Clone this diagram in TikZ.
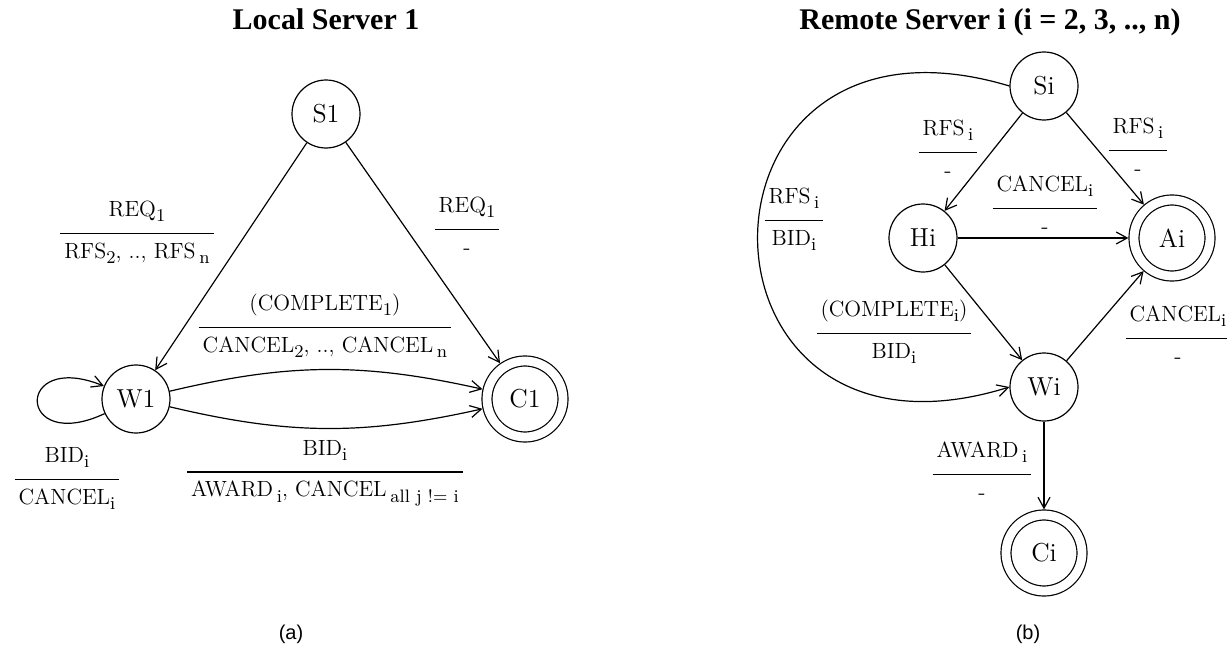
\documentclass[tikz,border=0pt]{standalone}
\usepackage{fontspec}
\usetikzlibrary{arrows.meta}
\newfontfamily\headfont{Liberation Serif}
\newfontfamily\capfont{Liberation Sans}
\tikzstyle{vertex}=[circle,draw,minimum size=34pt,inner sep=0pt,font=\fontsize{13}{15}\selectfont]
\tikzstyle{endvertex}=[vertex,minimum size=38pt,double,double distance=4.4pt,outer sep=2.8pt]
\tikzstyle{trans}=[inner sep=0pt,font=\fontsize{11}{13.6}\selectfont]
\tikzstyle{head}=[anchor=base,font=\headfont\bfseries\fontsize{15}{18}\selectfont]
\tikzstyle{caption}=[font=\capfont\fontsize{10}{12}\selectfont]
\newcommand{\io}[2]{\begin{tabular}{c}#1\rule[-8pt]{0pt}{8pt}\\\hline\rule{0pt}{12pt}#2\end{tabular}}
\newcommand{\low}[1]{\raisebox{-2.6pt}{\fontsize{9}{11}\selectfont #1}}
\setlength{\arrayrulewidth}{0.8pt}
\setlength{\tabcolsep}{2pt}

\begin{document}
\begin{tikzpicture}[x=0.5pt,y=0.5pt,semithick,>={Straight Barb[length=5.5pt,width=6pt]}]
\useasboundingbox (0,0) rectangle (1227,-648);
% (a) local server
\node[head] (lt) at (326,-29) {Local Server 1};
\node[vertex] at (326,-114) (S1) {S1};
\node[vertex] at (136,-399) (W1) {W1};
\node[endvertex] at (525,-399) (C1) {C1};
\draw[->] (S1) -- (W1);
\draw[->] (S1) -- (C1);
\draw[->] (W1) to[bend left=13] (C1);
\draw[->] (W1) to[bend right=13] (C1);
\draw[->] (W1) to[out=205,in=158,looseness=9] (W1);
\node[trans] at (137,-232) (tSW) {\io{REQ\low{1}}{RFS\low{2}, .., RFS\,\low{n}}};
\node[trans] at (467,-228) (tSC) {\io{REQ\low{1}}{-}};
\node[trans] at (325,-326) (tWCa) {\io{(COMPLETE\low{1})}{CANCEL\low{2}, .., CANCEL\,\low{n}}};
\node[trans] at (67,-478) (tWW) {\io{BID\low{i}}{CANCEL\low{i}}};
\node[trans] at (325,-471) (tWCb) {\io{BID\low{i}}{AWARD\,\low{i}, CANCEL\,\low{all j != i}}};
\node[caption] at (291,-634) (ca) {(a)};
% (b) remote server
\node[head] (rt) at (990,-29) {Remote Server i (i = 2, 3, .., n)};
\node[vertex] at (1044,-86) (Si) {Si};
\node[vertex] at (923,-238) (Hi) {Hi};
\node[endvertex] at (1172,-238) (Ai) {Ai};
\node[vertex] at (1044,-387) (Wi) {Wi};
\node[endvertex] at (1044,-553) (Ci) {Ci};
\draw[->] (Si) -- (Hi);
\draw[->] (Si) -- (Ai);
\draw[->] (Hi) -- (Ai);
\draw[->] (Hi) -- (Wi);
\draw[->] (Wi) -- (Ai);
\draw[->] (Wi) -- (Ci);
\draw[->] (Si.west) .. controls +(-336,101) and +(-335,-104) .. (Wi.west);
\node[trans] at (948,-151) (tSH) {\io{RFS\,\low{i}}{-}};
\node[trans] at (1138,-149) (tSA) {\io{RFS\,\low{i}}{-}};
\node[trans] at (1045,-207) (tHA) {\io{CANCEL\low{i}}{-}};
\node[trans] at (794,-219) (tSW2) {\io{RFS\,\low{i}}{BID\low{i}}};
\node[trans] at (894,-332) (tHW) {\io{(COMPLETE\low{i})}{BID\low{i}}};
\node[trans] at (1178,-337) (tWA) {\io{CANCEL\low{i}}{-}};
\node[trans] at (982,-473) (tWC) {\io{AWARD\,\low{i}}{-}};
\node[caption] at (1028,-634) (cb) {(b)};
\end{tikzpicture}
\end{document}
